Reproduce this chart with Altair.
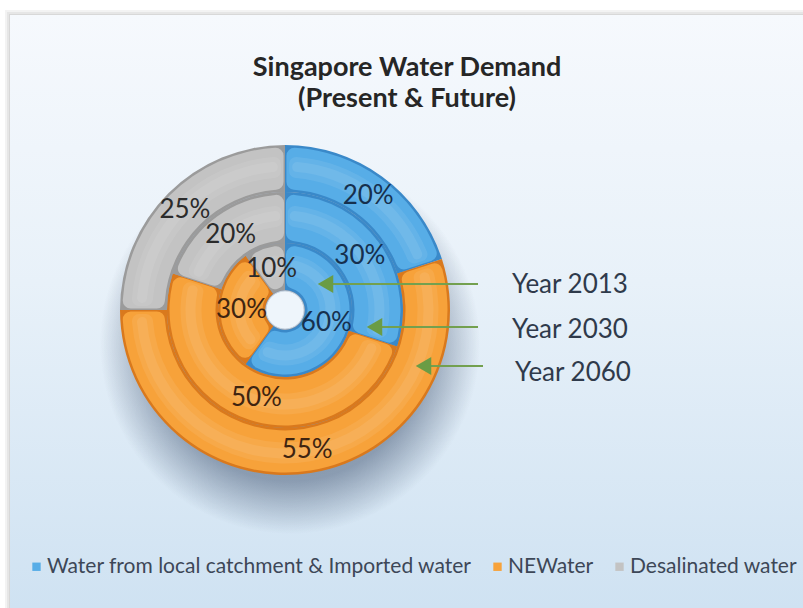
import math
import altair as alt
import pandas as pd

# ---------------- data ----------------
years = ["Year 2013", "Year 2030", "Year 2060"]
sources = ["Water from local catchment & Imported water", "NEWater", "Desalinated water"]
share_2013 = [60, 30, 10]
share_2030 = [30, 50, 20]
share_2060 = [20, 55, 25]
title_lines = ["Singapore Water Demand", "(Present & Future)"]

shares = {"Year 2013": share_2013, "Year 2030": share_2030, "Year 2060": share_2060}
rows = []
for y in years:
    for i, (s, v) in enumerate(zip(sources, shares[y])):
        rows.append({"year": y, "source": s, "value": v, "idx": i, "label": f"{v}%"})
df = pd.DataFrame(rows)

# ---------------- style / layout ----------------
main_colors = ["#57ade7", "#f7a23a", "#c3c3c3"]
edge_colors = ["#3a89c9", "#d9791d", "#9b9b9b"]
text_colors = ["#16304e", "#3f2410", "#2b2b2b"]
CX, CY = 285, 310
rings = {"Year 2013": (20, 67), "Year 2030": (67, 118), "Year 2060": (118, 165)}
arrow_y = {"Year 2013": 284, "Year 2030": 327, "Year 2060": 366}
label_y = {"Year 2013": 285, "Year 2030": 330, "Year 2060": 373}
line_end = {"Year 2013": 478, "Year 2030": 478, "Year 2060": 483}
FONT = "Lato"

theta_scale = alt.Scale(domain=[0, 100], range=[0, 2 * math.pi])
one = alt.Data(values=[{"k": 1}])

layers = []

# panel shadow + panel
for off, op in [(5, 0.10), (3, 0.12), (1, 0.15)]:
    layers.append(
        alt.Chart(one).mark_rect(fill="#8a8a8a", opacity=op).encode(
            x=alt.value(10 - off), x2=alt.value(803), y=alt.value(15 - off), y2=alt.value(608)
        )
    )
panel_grad = alt.Gradient(
    gradient="linear",
    stops=[
        alt.GradientStop(color="#f6f9fd", offset=0),
        alt.GradientStop(color="#e8f1f9", offset=0.45),
        alt.GradientStop(color="#cfe2f2", offset=1),
    ],
    x1=0, y1=0, x2=0, y2=1,
)
layers.append(
    alt.Chart(one).mark_rect(fill=panel_grad).encode(
        x=alt.value(10), x2=alt.value(803), y=alt.value(15), y2=alt.value(608)
    )
)

# donut drop shadow
shadow_grad = alt.Gradient(
    gradient="radial",
    stops=[
        alt.GradientStop(color="rgba(60,80,110,0.6)", offset=0),
        alt.GradientStop(color="rgba(60,80,110,0.5)", offset=0.72),
        alt.GradientStop(color="rgba(60,80,110,0.0)", offset=1),
    ],
    x1=0.5, y1=0.5, r1=0, x2=0.5, y2=0.5, r2=0.5,
)
layers.append(
    alt.Chart(one).mark_arc(theta=0, theta2=2 * math.pi, innerRadius=0, outerRadius=190, fill=shadow_grad).encode(
        x=alt.value(CX + 5), y=alt.value(CY + 34)
    )
)

color_scale = alt.Scale(domain=sources, range=main_colors)
legend = alt.Legend(
    orient="none", legendX=26, legendY=556, direction="horizontal", title=None,
    symbolType="square", symbolSize=70, symbolStrokeWidth=0, symbolOpacity=1,
    labelFont=FONT, labelFontSize=21, labelColor="#3d4757", labelOffset=0,
    columnPadding=15, labelLimit=0, padding=0,
)

first = True
for y in years:
    r_in, r_out = rings[y]
    base = alt.Chart(df).transform_filter(alt.datum.year == y)
    enc_common = dict(
        theta=alt.Theta("value:Q", stack=True, scale=theta_scale),
        order=alt.Order("idx:Q"),
        x=alt.value(CX), y=alt.value(CY),
    )
    layers.append(
        base.mark_arc(innerRadius=r_in, outerRadius=r_out).encode(
            fill=alt.Fill("source:N", scale=alt.Scale(domain=sources, range=edge_colors), legend=None),
            **enc_common,
        )
    )
    layers.append(
        base.mark_arc(innerRadius=r_in + 2.5, outerRadius=r_out - 2.5, cornerRadius=8,
                      padAngle=0.014 if r_in > 30 else 0.03).encode(
            color=alt.Color("source:N", scale=color_scale, legend=legend if first else None),
            **enc_common,
        )
    )
    mid = (r_in + r_out) / 2
    for lo, hi, pa in [(-9, 12, 0.04), (-3, 7, 0.07)]:
        layers.append(
            base.mark_arc(innerRadius=mid + lo, outerRadius=mid + hi, cornerRadius=7,
                          padAngle=pa if r_in > 30 else pa * 2.5,
                          fill="white", opacity=0.08).encode(**enc_common)
        )
    first = False

# hole
layers.append(
    alt.Chart(one).mark_arc(theta=0, theta2=2 * math.pi, innerRadius=0, outerRadius=19, fill="#eef5fb",
                            stroke="#c9d6e2", strokeWidth=1).encode(x=alt.value(CX), y=alt.value(CY))
)

# percentage labels
for y in years:
    r_in, r_out = rings[y]
    mid = (r_in + r_out) / 2
    layers.append(
        alt.Chart(df).transform_filter(alt.datum.year == y).mark_text(
            radius=mid, font=FONT, fontSize=26, align="center", baseline="middle"
        ).encode(
            theta=alt.Theta("value:Q", stack=True, scale=theta_scale),
            order=alt.Order("idx:Q"),
            text=alt.Text("label:N"),
            fill=alt.Fill("source:N", scale=alt.Scale(domain=sources, range=text_colors), legend=None),
            x=alt.value(CX), y=alt.value(CY),
        )
    )

# arrows and year labels
for y in years:
    r_in, r_out = rings[y]
    tip = CX + (r_in + r_out) / 2 - 12
    ay = arrow_y[y]
    layers.append(
        alt.Chart(one).mark_rule(color="#73a04f", strokeWidth=2).encode(
            x=alt.value(tip + 12), x2=alt.value(line_end[y]), y=alt.value(ay)
        )
    )
    layers.append(
        alt.Chart(one).mark_point(shape="triangle-left", filled=True, size=320, color="#6a9c45", opacity=1).encode(
            x=alt.value(tip + 9), y=alt.value(ay)
        )
    )
    layers.append(
        alt.Chart(alt.Data(values=[{"t": y}])).mark_text(
            font=FONT, fontSize=26, color="#2f3a4b", align="left", baseline="middle"
        ).encode(text="t:N", x=alt.value(512 if y != "Year 2060" else 515), y=alt.value(label_y[y]))
    )

# title
for i, line in enumerate(title_lines):
    layers.append(
        alt.Chart(alt.Data(values=[{"t": line}])).mark_text(
            font=FONT, fontSize=27, fontWeight="bold", color="#262626", align="center", baseline="middle"
        ).encode(text="t:N", x=alt.value(407), y=alt.value(68 + 31 * i))
    )

chart = (
    alt.layer(*layers)
    .resolve_scale(fill="independent")
    .properties(width=803, height=608, padding=0, autosize=alt.AutoSizeParams(type="none"), background="white")
    .configure_view(stroke=None)
)

chart.save("out.html", embed_options={"renderer": "svg", "actions": False})
